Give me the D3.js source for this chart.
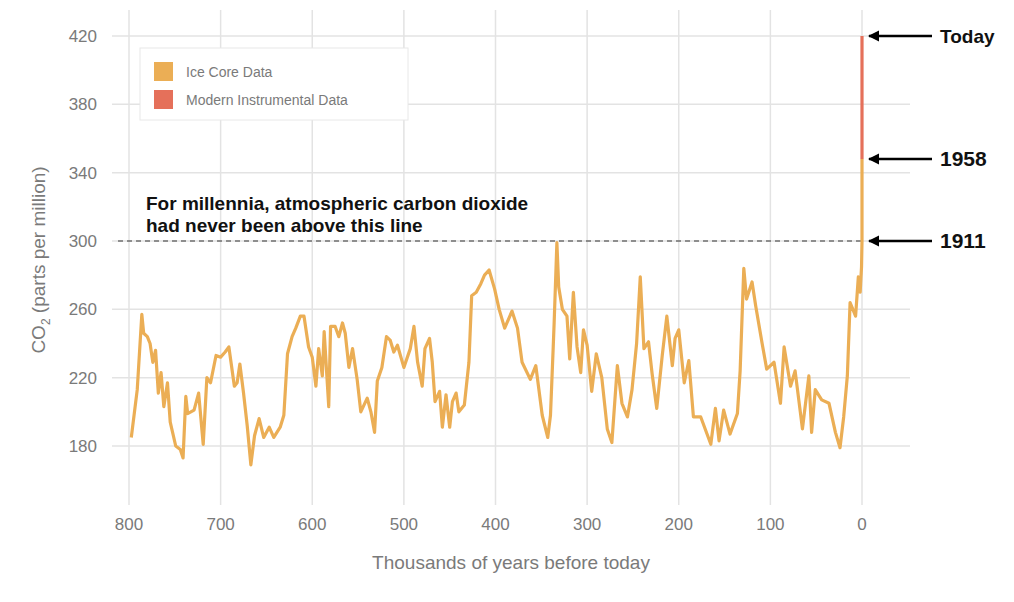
<!DOCTYPE html>
<html><head><meta charset="utf-8">
<script src="https://cdn.jsdelivr.net/npm/d3@7"></script>
<style>body{margin:0;background:#fff;font-family:"Liberation Sans",Arial,sans-serif}</style>
</head><body><svg id="c" width="1014" height="602"></svg>
<script>
// ice core record: [thousands of years before today, ppm]
var iceCore = [[797.5,185],[791,213],[786,257],[784,246],[780,244],[777,240],[774,229],[771,236],[768,211],[765,223],[762,203],[758,217],[755,194],[749,180],[744,178],[741,173],[738,209],[736,199],[729,201],[724,211],[719,181],[715,220],[711,217],[705,233],[700,232],[695,235],[691,238],[685,215],[682,217],[679,228],[675,211],[671,192],[667,169],[663,186],[658,196],[653,185],[647,191],[642,185],[635,191],[631,198],[627,234],[622,244],[618,249],[613,256],[609,256],[604,238],[600,232],[596,215],[593,237],[589,221],[587,247],[582,203],[580,250],[575,250],[571,244],[567,252],[564,246],[560,226],[556,237],[551,219],[547,200],[540,208],[536,200],[532,188],[529,218],[524,226],[519,244],[515,242],[511,235],[507,239],[500,226],[493,237],[489,250],[485,229],[480,215],[477,237],[472,243],[469,229],[466,206],[461,212],[458,191],[454,210],[450,191],[447,206],[443,211],[440,200],[434,204],[429,229],[426,268],[421,270],[416,275],[412,280],[407,283],[401,272],[396,260],[390,249],[382,259],[376,249],[371,229],[362,219],[356,227],[349,198],[343,185],[340,198],[337,238],[336,252],[333,299],[331,273],[327,260],[322,256],[319,231],[315,270],[311,238],[307,223],[304,248],[300,239],[295,212],[290,234],[284,220],[278,190],[273,182],[267,227],[262,205],[256,197],[251,213],[246,240],[242,279],[238,237],[233,241],[229,222],[224,202],[218,233],[213,256],[207,227],[204,243],[200,248],[194,217],[189,230],[184,197],[176,197],[165,181],[160,202],[156,183],[151,201],[144,187],[136,199],[133,224],[129,284],[126,266],[120,276],[116,262],[109,240],[104,225],[96,229],[89,205],[85,238],[78,215],[73,224],[65,190],[58,221],[55,188],[51,213],[44,207],[36,205],[29,188],[24,179],[20,197],[16,221],[13,264],[7,256],[4,279],[2,270],[0.5,285],[0,300],[0,348]];
var modern = [[0,348],[0,420]];
var xTicks = [800,700,600,500,400,300,200,100,0];
var yTicks = [180,220,260,300,340,380,420];
var markers = [{label:"Today",ppm:420},{label:"1958",ppm:348},{label:"1911",ppm:300}];
var legendItems = [{label:"Ice Core Data",color:"#ebae55"},{label:"Modern Instrumental Data",color:"#e5705a"}];

var svg = d3.select("#c");
var x = d3.scaleLinear().domain([800,0]).range([129,862]);
var y = d3.scaleLinear().domain([180,420]).range([446,36]);
var grid = "#e3e3e3", textCol = "#7a7a7a";

svg.selectAll(".hg").data(yTicks).join("line")
  .attr("x1",112).attr("x2",910).attr("y1",y).attr("y2",y)
  .attr("stroke",grid).attr("stroke-width",1.5);
svg.selectAll(".vg").data(xTicks).join("line")
  .attr("y1",10).attr("y2",505).attr("x1",x).attr("x2",x)
  .attr("stroke",grid).attr("stroke-width",1.5);

svg.selectAll(".yt").data(yTicks).join("text")
  .attr("x",97).attr("y",d=>y(d)+6).attr("text-anchor","end")
  .attr("fill",textCol).attr("font-size",17).text(d=>d);
svg.selectAll(".xt").data(xTicks).join("text")
  .attr("x",x).attr("y",530).attr("text-anchor","middle")
  .attr("fill",textCol).attr("font-size",17).text(d=>d);

svg.append("text").attr("x",511).attr("y",569).attr("text-anchor","middle")
  .attr("fill",textCol).attr("font-size",19).text("Thousands of years before today");
var yl = svg.append("text").attr("transform","translate(45,260) rotate(-90)")
  .attr("text-anchor","middle").attr("fill",textCol).attr("font-size",19);
yl.append("tspan").text("CO");
yl.append("tspan").attr("font-size",12).attr("dy",5).text("2");
yl.append("tspan").attr("dy",-5).text("  (parts per million)");

svg.append("line").attr("x1",118).attr("x2",862).attr("y1",y(300)).attr("y2",y(300))
  .attr("stroke","#333").attr("stroke-width",1.2).attr("stroke-dasharray","5,4");
svg.append("text").attr("x",146).attr("y",210).attr("font-size",19).attr("font-weight","bold")
  .attr("fill","#111").text("For millennia, atmospheric carbon dioxide");
svg.append("text").attr("x",146).attr("y",232).attr("font-size",19).attr("font-weight","bold")
  .attr("fill","#111").text("had never been above this line");

var line = d3.line().x(d=>x(d[0])).y(d=>y(d[1]));
svg.append("path").datum(iceCore).attr("d",line).attr("fill","none")
  .attr("stroke","#ebae55").attr("stroke-width",3.2).attr("stroke-linejoin","round");
svg.append("path").datum(modern).attr("d",line).attr("fill","none")
  .attr("stroke","#e5705a").attr("stroke-width",3.2);

svg.append("defs").append("marker").attr("id","ah").attr("viewBox","0 0 10 10")
  .attr("refX",9).attr("refY",5).attr("markerWidth",4.5).attr("markerHeight",4.5).attr("orient","auto")
  .append("path").attr("d","M0,0L10,5L0,10z").attr("fill","#000");
markers.forEach(function(m){
  svg.append("line").attr("x1",932).attr("x2",869).attr("y1",y(m.ppm)).attr("y2",y(m.ppm))
    .attr("stroke","#000").attr("stroke-width",2.5).attr("marker-end","url(#ah)");
  svg.append("text").attr("x",940).attr("y",y(m.ppm)+7).attr("font-size",m.label=="Today"?19:21)
    .attr("font-weight","bold").attr("fill","#111").text(m.label);
});

var lg = svg.append("g");
lg.append("rect").attr("x",140).attr("y",48).attr("width",268).attr("height",72)
  .attr("fill","#fff").attr("stroke","#e8e8e8");
legendItems.forEach(function(d,i){
  lg.append("rect").attr("x",154).attr("y",62+i*28).attr("width",19).attr("height",19).attr("fill",d.color);
  lg.append("text").attr("x",186).attr("y",77+i*28).attr("font-size",14).attr("fill",textCol).text(d.label);
});
</script></body></html>
